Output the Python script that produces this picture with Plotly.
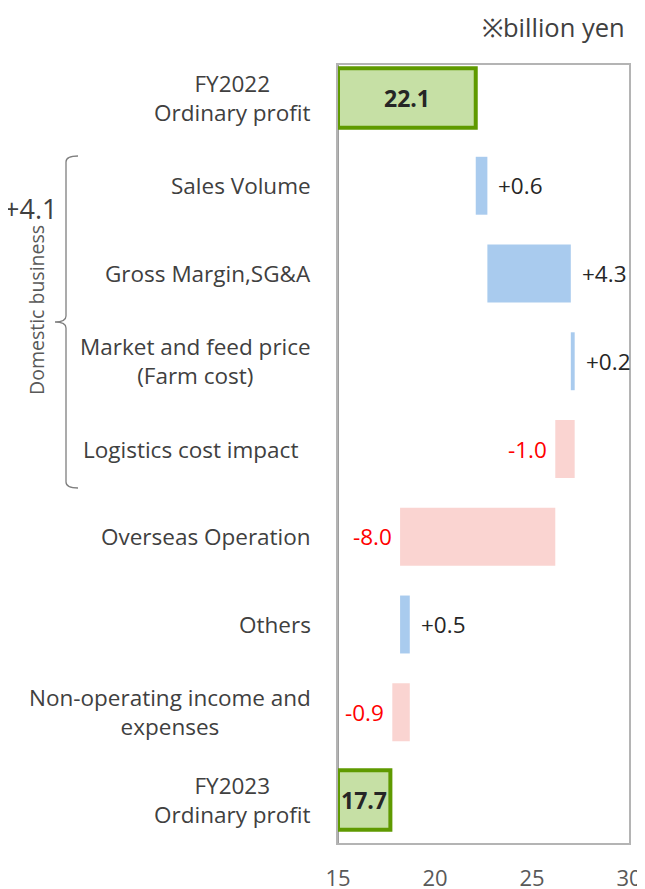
import plotly.graph_objects as go

# ---------------- data ----------------
categories = [
    "FY2022 Ordinary profit",
    "Sales Volume",
    "Gross Margin,SG&A",
    "Market and feed price (Farm cost)",
    "Logistics cost impact",
    "Overseas Operation",
    "Others",
    "Non-operating income and expenses",
    "FY2023 Ordinary profit",
]
category_labels = [
    "FY2022<br>Ordinary profit",
    "Sales Volume",
    "Gross Margin,SG&amp;A",
    "Market and feed price<br>(Farm cost)",
    "Logistics cost impact",
    "Overseas Operation",
    "Others",
    "Non-operating income and<br>expenses",
    "FY2023<br>Ordinary profit",
]
start_total = 22.1
deltas = [0.6, 4.3, 0.2, -1.0, -8.0, 0.5, -0.9]
end_total = 17.7
delta_labels = ["+0.6", "+4.3", "+0.2", "-1.0", "-8.0", "+0.5", "-0.9"]
domestic_total_label = "+4.1"
x_ticks = [15, 20, 25, 30]

# ---------------- layout constants ----------------
# page coordinates (the html body adds an 8px margin around the figure)
PAGE_OFF = 8
W, H = 645 - PAGE_OFF, 889 - PAGE_OFF
L, R, T, B = 338, 629, 65, 843          # plot area in page pixels
X_MIN, X_MAX = 15, 30
ROW_PAD_TOP, ROW_PAD_BOTTOM = 0.376, 0.49

def px_x(p):
    return (p - L) / (R - L)

def px_y(p):
    return (B - p) / (B - T)

FONT = "Open Sans"
GREEN_FILL = "#C6E0A5"
GREEN_LINE = "#5F9A00"
BLUE = "#A9CBEE"
PINK = "#FAD4D1"
TEXT = "#404040"

# cumulative bases for deltas
bases = []
running = start_total
for d in deltas:
    bases.append(running)
    running += d

delta_cats = categories[1:-1]
pos_idx = [i for i, d in enumerate(deltas) if d >= 0]
neg_idx = [i for i, d in enumerate(deltas) if d < 0]

fig = go.Figure()

# totals
fig.add_trace(go.Bar(
    y=[categories[0], categories[-1]],
    x=[start_total - X_MIN, end_total - X_MIN],
    base=[X_MIN, X_MIN],
    orientation="h",
    width=0.68,
    marker=dict(color=GREEN_FILL, line=dict(color=GREEN_LINE, width=4)),
    hoverinfo="skip",
    showlegend=False,
))
# increases
fig.add_trace(go.Bar(
    y=[delta_cats[i] for i in pos_idx],
    x=[deltas[i] for i in pos_idx],
    base=[bases[i] for i in pos_idx],
    orientation="h",
    width=0.66,
    marker=dict(color=BLUE, line=dict(width=0)),
    hoverinfo="skip",
    showlegend=False,
))
# decreases
fig.add_trace(go.Bar(
    y=[delta_cats[i] for i in neg_idx],
    x=[deltas[i] for i in neg_idx],
    base=[bases[i] for i in neg_idx],
    orientation="h",
    width=0.66,
    marker=dict(color=PINK, line=dict(width=0)),
    hoverinfo="skip",
    showlegend=False,
))

annotations = []
# category labels
label_shift = {4: -13}
for i, (c, lab) in enumerate(zip(categories, category_labels)):
    annotations.append(dict(
        x=0, xref="paper", y=c, yref="y", text=lab, showarrow=False,
        xanchor="right", yanchor="middle", align="center",
        xshift=-25 + label_shift.get(i, 0),
        font=dict(family=FONT, size=22.5, color=TEXT),
    ))
# total values
for c, v in [(categories[0], start_total), (categories[-1], end_total)]:
    annotations.append(dict(
        x=(X_MIN + v) / 2, y=c, text=f"<b>{v:.1f}</b>", showarrow=False,
        font=dict(family=FONT, size=23, color="#262626"),
    ))
# delta labels
for i, (c, d, lab) in enumerate(zip(delta_cats, deltas, delta_labels)):
    end = bases[i] + d
    if d >= 0:
        annotations.append(dict(
            x=end, y=c, text=lab, showarrow=False, xanchor="left", xshift=9,
            font=dict(family=FONT, size=22.5, color="#262626"),
        ))
    else:
        annotations.append(dict(
            x=end, y=c, text=lab, showarrow=False, xanchor="right", xshift=-7,
            bgcolor="white", borderpad=0,
            font=dict(family=FONT, size=22.5, color="#FF0000"),
        ))
# unit
annotations.append(dict(
    x=px_x(627), xref="paper", y=px_y(27), yref="paper", text="※billion yen",
    showarrow=False, xanchor="right", yanchor="middle",
    font=dict(family=FONT, size=25.5, color=TEXT),
))
# domestic business bracket labels
annotations.append(dict(
    x=px_x(30), xref="paper", y=px_y(208), yref="paper", text=domestic_total_label,
    showarrow=False, xanchor="center", yanchor="middle",
    font=dict(family=FONT, size=27, color=TEXT),
))
annotations.append(dict(
    x=px_x(36), xref="paper", y=px_y(310), yref="paper", text="Domestic business",
    showarrow=False, textangle=-90, xanchor="center", yanchor="middle",
    font=dict(family=FONT, size=19.5, color="#595959"),
))

# bracket path in paper coords
def P(x, y):
    return f"{px_x(x):.5f},{px_y(y):.5f}"

bracket = (
    f"M {P(78,156)} Q {P(66,156)} {P(66,162)} L {P(66,316)} "
    f"Q {P(66,322)} {P(55,322)} Q {P(66,322)} {P(66,328)} "
    f"L {P(66,482)} Q {P(66,488)} {P(78,488)}"
)
shapes = [
    dict(type="path", path=bracket, xref="paper", yref="paper",
         line=dict(color="#7F7F7F", width=1.3)),
    dict(type="line", xref="x", yref="paper", x0=X_MIN, x1=X_MIN, y0=0, y1=1,
         line=dict(color="#7F7F7F", width=1.5), layer="below"),
]

fig.update_layout(
    width=W, height=H,
    margin=dict(l=L - PAGE_OFF, r=W - (R - PAGE_OFF), t=T - PAGE_OFF,
                b=H - (B - PAGE_OFF), pad=0, autoexpand=False),
    paper_bgcolor="white", plot_bgcolor="white",
    barmode="overlay",
    annotations=annotations,
    shapes=shapes,
    font=dict(family=FONT, color=TEXT),
    xaxis=dict(
        range=[X_MIN, X_MAX], tickvals=x_ticks, ticktext=[str(t) for t in x_ticks],
        showgrid=False, zeroline=False, showline=True, mirror=True,
        linecolor="#B4B4B4", linewidth=1.5, ticks="", automargin=False,
        tickfont=dict(family=FONT, size=22, color="#595959"),
        ticklabelstandoff=15,
    ),
    yaxis=dict(
        categoryorder="array", categoryarray=categories,
        range=[len(categories) - 1 + ROW_PAD_BOTTOM, -ROW_PAD_TOP], automargin=False,
        showticklabels=False, showgrid=False, zeroline=False,
        showline=True, mirror=True, linecolor="#B4B4B4", linewidth=1.5, ticks="",
    ),
)

fig.write_html("out.html")
